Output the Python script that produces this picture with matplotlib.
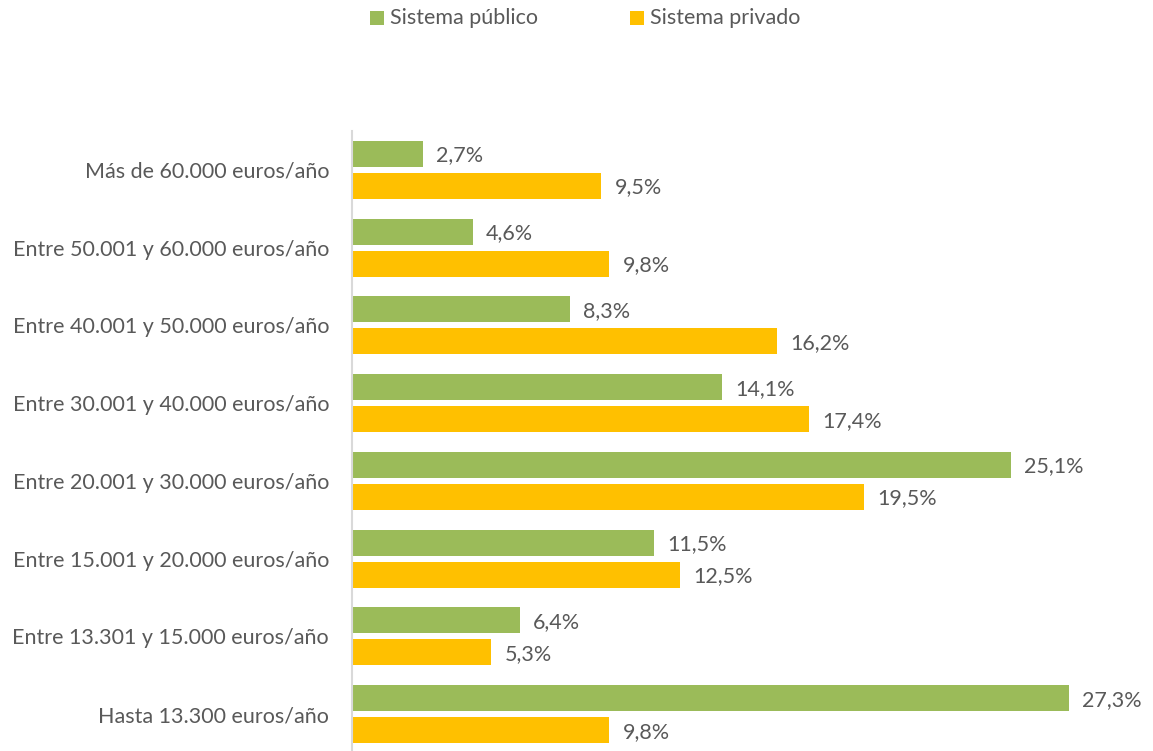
import matplotlib
matplotlib.use("Agg")
import matplotlib.pyplot as plt
from matplotlib.patches import Rectangle

categories = ["Más de 60.000 euros/año",
              "Entre 50.001 y 60.000 euros/año",
              "Entre 40.001 y 50.000 euros/año",
              "Entre 30.001 y 40.000 euros/año",
              "Entre 20.001 y 30.000 euros/año",
              "Entre 15.001 y 20.000 euros/año",
              "Entre 13.301 y 15.000 euros/año",
              "Hasta 13.300 euros/año"]
publico = [2.7, 4.6, 8.3, 14.1, 25.1, 11.5, 6.4, 27.3]
privado = [9.5, 9.8, 16.2, 17.4, 19.5, 12.5, 5.3, 9.8]
series_names = ["Sistema público", "Sistema privado"]
colors = ["#9BBB59", "#FFC000"]
text_color = "#595959"

plt.rcParams['font.family'] = ['Lato', 'DejaVu Sans']
W, H = 1153, 751
fig = plt.figure(figsize=(W/100, H/100), dpi=100)
ax = fig.add_axes([352/W, -2/H, 801/W, 622/H])

n = len(categories)
ypos = [n - 1 - i for i in range(n)]
bh = 0.334
off = 0.206
ax.barh([y + off for y in ypos], publico, height=bh, color=colors[0])
ax.barh([y - off for y in ypos], privado, height=bh, color=colors[1])
fs = 15.5
for y, v in zip(ypos, publico):
    ax.text(v + 0.5, y + off - 0.02, f"{v:.1f}".replace(".", ",") + "%", va="center", ha="left",
            fontsize=fs, color=text_color)
for y, v in zip(ypos, privado):
    ax.text(v + 0.5, y - off - 0.02, f"{v:.1f}".replace(".", ",") + "%", va="center", ha="left",
            fontsize=fs, color=text_color)

ax.set_xlim(0, 30.5)
ax.set_ylim(-0.5, n - 0.5)
ax.set_yticks(ypos)
ax.set_yticklabels(categories, fontsize=fs, color=text_color)
ax.tick_params(axis='y', length=0, pad=16.5)
ax.set_xticks([])
for s in ["top", "right", "bottom"]:
    ax.spines[s].set_visible(False)
ax.spines["left"].set_color("#D9D9D9")
ax.spines["left"].set_linewidth(1.5)

# legend
for xs, name, c in zip([370, 630], series_names, colors):
    fig.patches.append(Rectangle((xs/W, 1 - 25/H), 14/W, 14/H, transform=fig.transFigure,
                                 facecolor=c, edgecolor="none"))
    fig.text((xs + 20)/W, 1 - 18/H, name, fontsize=fs, color=text_color, va="center", ha="left")

fig.savefig("out.png", dpi=100)
